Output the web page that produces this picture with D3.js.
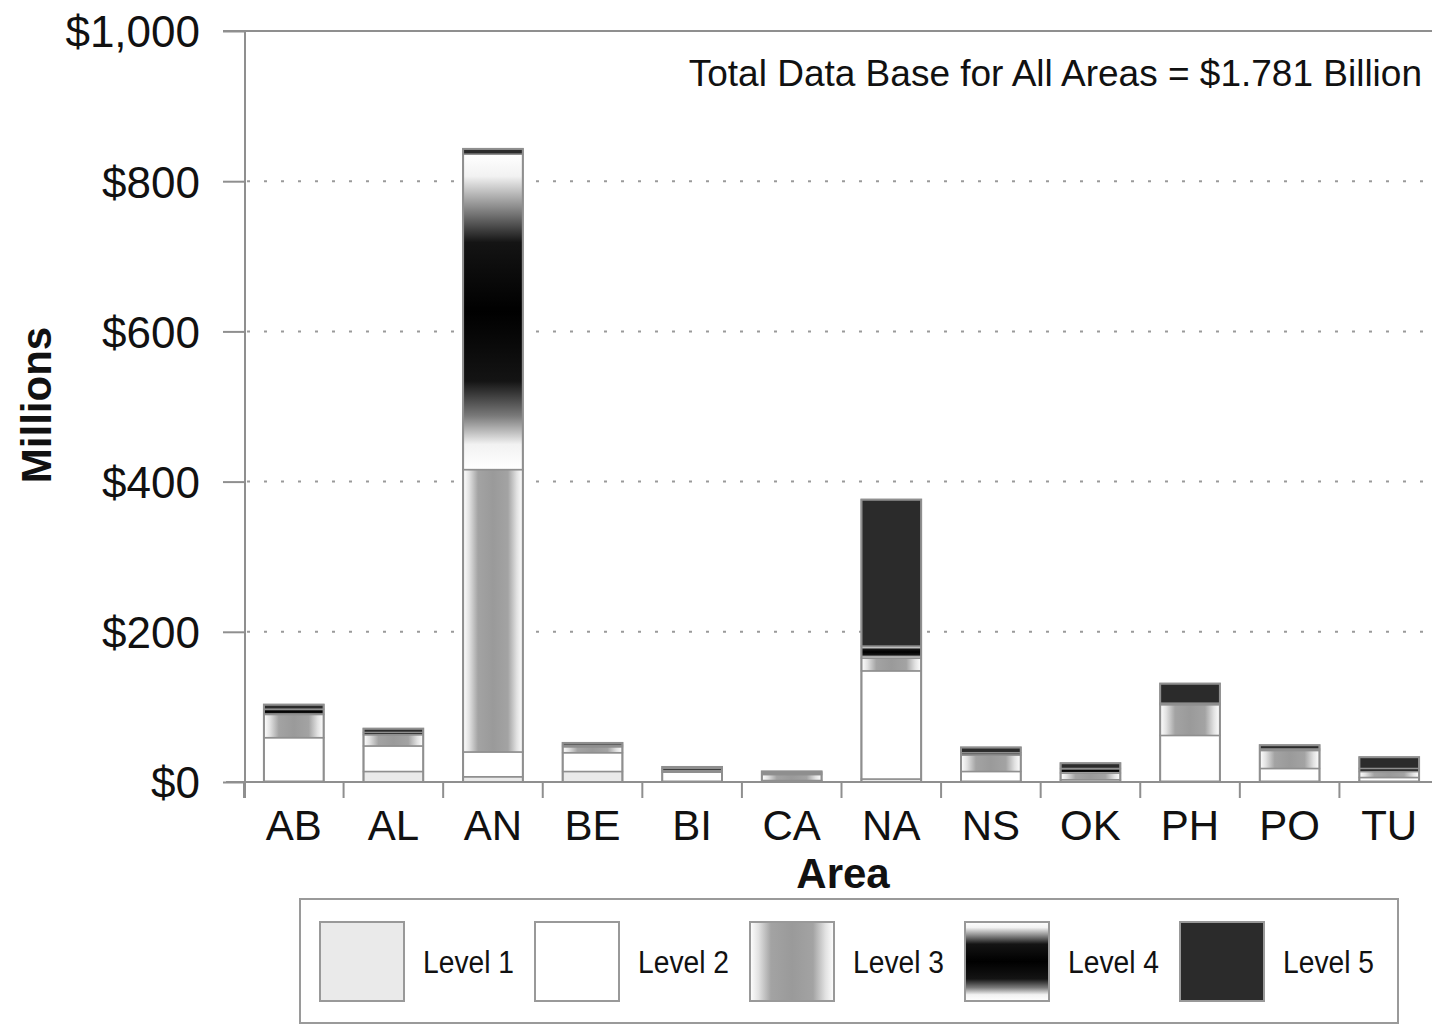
<!DOCTYPE html>
<html>
<head>
<meta charset="utf-8">
<script src="https://cdn.jsdelivr.net/npm/d3@7/dist/d3.min.js"></script>
<style>
  html, body { margin: 0; padding: 0; background: #fff; }
  svg { display: block; }
  text { font-family: "Liberation Sans", Arial, Helvetica, sans-serif; fill: #111; }
</style>
</head>
<body>
<svg id="chart" width="1432" height="1026"></svg>
<script>
// ---- data (millions of dollars) ----
const areas  = ["AB", "AL", "AN", "BE", "BI", "CA", "NA", "NS", "OK", "PH", "PO", "TU"];
const level1 = [1, 14, 7, 14, 1, 1, 4, 1, 0, 1, 1, 1];
const level2 = [58, 34, 33, 25, 12, 1, 144, 13, 3, 61, 17, 5];
const level3 = [31, 15, 376, 8, 2, 8, 17, 22, 9, 41, 24, 8];
const level4 = [7, 3, 420, 2, 3, 2, 16, 3, 6, 2, 2, 4];
const level5 = [6, 5, 7, 3, 2, 2, 195, 7, 7, 26, 5, 15];
const levelNames = ["Level 1", "Level 2", "Level 3", "Level 4", "Level 5"];
const yTicks = [0, 200, 400, 600, 800, 1000];
const annotation = "Total Data Base for All Areas = $1.781 Billion";

const seriesValues = [level1, level2, level3, level4, level5];
const rows = areas.map((a, i) => {
  const r = { area: a };
  levelNames.forEach((k, j) => r[k] = seriesValues[j][i]);
  return r;
});

const svg = d3.select("#chart");
const gray = "#8f8f8f";

// ---- gradients / fills ----
const defs = svg.append("defs");
const g3 = defs.append("linearGradient").attr("id", "lv3").attr("x1", 0).attr("x2", 1).attr("y1", 0).attr("y2", 0);
[[0, "#ffffff"], [0.1, "#e2e2e2"], [0.25, "#a3a3a3"], [0.5, "#9a9a9a"], [0.75, "#a3a3a3"], [0.9, "#e2e2e2"], [1, "#ffffff"]]
  .forEach(s => g3.append("stop").attr("offset", s[0]).attr("stop-color", s[1]));
const g4 = defs.append("linearGradient").attr("id", "lv4").attr("x1", 0).attr("x2", 0).attr("y1", 0).attr("y2", 1);
[[0, "#ffffff"], [0.07, "#f2f2f2"], [0.17, "#8a8a8a"], [0.28, "#141414"], [0.5, "#000000"], [0.72, "#141414"], [0.83, "#7a7a7a"], [0.92, "#f2f2f2"], [1, "#ffffff"]]
  .forEach(s => g4.append("stop").attr("offset", s[0]).attr("stop-color", s[1]));
const fills = ["#eaeaea", "#ffffff", "url(#lv3)", "url(#lv4)", "#2b2b2b"];

// ---- scales ----
const y = d3.scaleLinear().domain([0, 1000]).range([782, 31]);
const x = d3.scaleBand().domain(areas).range([244, 1439]).paddingInner(0.4).paddingOuter(0.2);

// ---- frame: top line, gridlines ----
svg.append("line").attr("x1", 223).attr("x2", 1432).attr("y1", y(1000)).attr("y2", y(1000))
  .attr("stroke", gray).attr("stroke-width", 2);
svg.append("g").selectAll("line").data(yTicks.filter(d => d > 0 && d < 1000)).join("line")
  .attr("x1", 247).attr("x2", 1426).attr("y1", d => y(d)).attr("y2", d => y(d))
  .attr("stroke", "#9a9a9a").attr("stroke-width", 2).attr("stroke-dasharray", "3,14");

// ---- y axis ----
const yAxis = d3.axisLeft(y).tickValues(yTicks).tickSize(22).tickPadding(23)
  .tickFormat(d => "$" + d3.format(",")(d));
const gy = svg.append("g").attr("transform", "translate(245,0)").call(yAxis);
gy.select(".domain").remove();
gy.selectAll(".tick line").attr("stroke", gray).attr("stroke-width", 2);
gy.selectAll(".tick text").attr("font-size", 44).attr("fill", "#111")
  .attr("font-family", "'Liberation Sans', Arial, sans-serif").attr("dy", "0.36em");
svg.append("line").attr("x1", 245).attr("x2", 245).attr("y1", y(1000)).attr("y2", 798)
  .attr("stroke", gray).attr("stroke-width", 2);

// ---- x axis ----
svg.append("line").attr("x1", 226).attr("x2", 1432).attr("y1", y(0)).attr("y2", y(0))
  .attr("stroke", gray).attr("stroke-width", 2);
const boundaries = areas.map(a => x(a) - x.step() * x.paddingInner() / 2);
svg.append("g").selectAll("line").data(boundaries).join("line")
  .attr("x1", d => d).attr("x2", d => d).attr("y1", y(0)).attr("y2", 798)
  .attr("stroke", gray).attr("stroke-width", 2);
svg.append("g").selectAll("text").data(areas).join("text")
  .attr("x", d => x(d) + x.bandwidth() / 2).attr("y", 840)
  .attr("text-anchor", "middle").attr("font-size", 42).text(d => d);

// ---- stacked bars ----
const stack = d3.stack().keys(levelNames)(rows);
const barG = svg.append("g");
stack.forEach((layer, li) => {
  barG.append("g").selectAll("rect").data(layer).join("rect")
    .attr("x", d => x(d.data.area))
    .attr("width", x.bandwidth())
    .attr("y", d => y(d[1]))
    .attr("height", d => Math.max(0, y(d[0]) - y(d[1])))
    .attr("fill", fills[li])
    .attr("stroke", gray).attr("stroke-width", 1.5);
});
// outer outline
barG.append("g").selectAll("rect").data(rows).join("rect")
  .attr("x", d => x(d.area)).attr("width", x.bandwidth())
  .attr("y", d => y(d3.sum(levelNames, k => d[k])))
  .attr("height", d => y(0) - y(d3.sum(levelNames, k => d[k])))
  .attr("fill", "none").attr("stroke", gray).attr("stroke-width", 2);

// ---- annotation & axis titles ----
svg.append("text").attr("x", 1422).attr("y", 86).attr("text-anchor", "end")
  .attr("font-size", 37).text(annotation);
svg.append("text").attr("x", 843).attr("y", 888).attr("text-anchor", "middle")
  .attr("font-size", 42).attr("font-weight", "bold").text("Area");
svg.append("text").attr("transform", "translate(51,405) rotate(-90)")
  .attr("text-anchor", "middle").attr("font-size", 42).attr("font-weight", "bold").text("Millions");

// ---- legend ----
const lg = svg.append("g");
lg.append("rect").attr("x", 300).attr("y", 899).attr("width", 1098).attr("height", 124)
  .attr("fill", "none").attr("stroke", "#9a9a9a").attr("stroke-width", 2);
const items = lg.selectAll("g.item").data(levelNames).join("g").attr("class", "item")
  .attr("transform", (d, i) => `translate(${320 + i * 215},0)`);
items.append("rect").attr("x", 0).attr("y", 922).attr("width", 84).attr("height", 79)
  .attr("fill", (d, i) => fills[i]).attr("stroke", "#999").attr("stroke-width", 2);
items.append("text").attr("x", 103).attr("y", 973).attr("font-size", 31)
  .attr("textLength", 91).attr("lengthAdjust", "spacingAndGlyphs").text(d => d);
</script>
</body>
</html>
